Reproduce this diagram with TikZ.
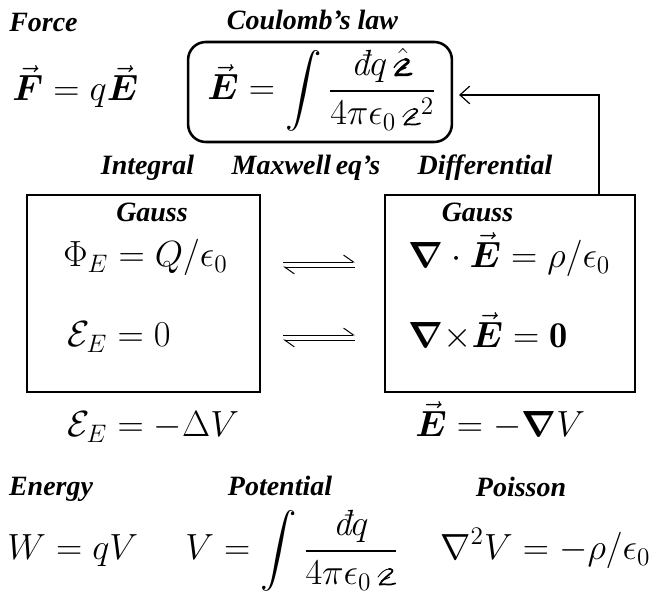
\documentclass[tikz,border=0pt]{standalone}
\usepackage{amsmath,amssymb}
\usepackage{fontspec}
\newfontfamily\labfont{Liberation Serif}
\usetikzlibrary{arrows.meta}
\newcommand\scrrw[1]{\tikz[baseline=0pt,x=1ex,y=1ex,line width=#1,line cap=round,line join=round]{%
  \draw[line width=0.5*#1] (0.05,0.5) .. controls (0.25,0.8) and (0.5,1.0) .. (0.75,1.02);
  \draw (0.75,1.02) .. controls (0.95,1.03) and (1.05,0.9) .. (0.9,0.78)
        .. controls (0.6,0.55) and (0.3,0.3) .. (0.15,0.02)
        .. controls (0.45,0.1) and (0.8,-0.05) .. (1.15,0.1);
  \draw[line width=0.6*#1] (0.3,0.28) -- (0.8,0.5);}}
\newcommand\scrr{\scrrw{0.11ex}}
\newcommand\scrrb{\scrrw{0.17ex}}
\newcommand\EQ[1]{\scalebox{1.07}{$\displaystyle #1$}}
\begin{document}
\begin{tikzpicture}[x=0.508pt,y=-0.508pt,
  lab/.style={font=\labfont\bfseries\itshape\fontsize{14.2}{16}\selectfont, inner sep=0pt, anchor=base},
  eq/.style={font=\LARGE, inner sep=0pt, anchor=base west},
  box/.style={draw, line width=1.3pt, inner sep=0pt},
  harp/.style={line width=0.5pt, -{Straight Barb[left,length=5pt,width=7pt]}}]
\useasboundingbox (0,0) rectangle (657,594);
% top row
\node[lab] (force) at (43.5,32) {Force};
\node[eq] (F) at (12,101) {\EQ{\vec{\boldsymbol F}=q\vec{\boldsymbol E}}};
\node[lab] (coullab) at (312.5,30) {Coulomb’s law};
\node[box, rounded corners=9pt, minimum width=134pt, minimum height=50.8pt] (coulbox) at (320,92) {};
\node[eq] (coul) at (207,100) {\EQ{\vec{\boldsymbol E}=\int\frac{\text{\itshape đ}q\,\hat{\text{\scrrb}}}{4\pi\epsilon_0\,\scrr^2}}};
% headings
\node[lab] (integral) at (147.5,175) {Integral};
\node[lab] (maxwell) at (306,175) {Maxwell\,eq’s};
\node[lab] (diff) at (485,175) {Differential};
% boxes
\node[box, minimum width=118.4pt, minimum height=100pt] (lbox) at (143.5,293.5) {};
\node[box, minimum width=127pt, minimum height=100pt] (rbox) at (510,293.5) {};
\node[lab] (gl) at (152,222) {Gauss};
\node[lab] (gr) at (477.5,222) {Gauss};
\node[eq] (phi) at (63,267) {\EQ{\Phi_E=Q/\epsilon_0}};
\node[eq] (emf0) at (67,347) {\EQ{\mathcal{E}_E=0}};
\node[eq] (div) at (408,268) {\EQ{\boldsymbol\nabla\cdot\vec{\boldsymbol E}=\rho/\epsilon_0}};
\node[eq] (curl) at (408,348) {\EQ{\boldsymbol\nabla{\times}\vec{\boldsymbol E}=\mathbf 0}};
% harpoons
\coordinate (h1l) at (283,262); \coordinate (h1r) at (355,262);
\coordinate (h2l) at (283,267); \coordinate (h2r) at (355,267);
\draw[harp] (h1l) -- (h1r);
\draw[harp] (h2r) -- (h2l);
\coordinate (h3l) at (283,335); \coordinate (h3r) at (355,335);
\coordinate (h4l) at (283,340); \coordinate (h4r) at (355,340);
\draw[harp] (h3l) -- (h3r);
\draw[harp] (h4r) -- (h4l);
% arrow to Coulomb
\coordinate (up) at (599,195);
\draw[line width=0.6pt, shorten >=3pt, -{Straight Barb[length=5pt,width=9pt]}] (up) |- ([yshift=-1.5pt]coulbox.east);
% potential relations
\node[eq] (emfv) at (67,437) {\EQ{\mathcal{E}_E=-\Delta V}};
\node[eq] (egrad) at (415,437) {\EQ{\vec{\boldsymbol E}=-\boldsymbol\nabla V}};
% bottom
\node[lab] (energy) at (51,496) {Energy};
\node[lab] (pot) at (280,496) {Potential};
\node[lab] (poisson) at (521,497) {Poisson};
\node[eq] (W) at (7,560) {\EQ{W=qV}};
\node[eq] (V) at (185,560) {\EQ{V=\int\frac{\text{\itshape đ}q}{4\pi\epsilon_0\,\scrr}}};
\node[eq] (lap) at (440,560) {\EQ{\nabla^2V=-\rho/\epsilon_0}};
\end{tikzpicture}
\end{document}
